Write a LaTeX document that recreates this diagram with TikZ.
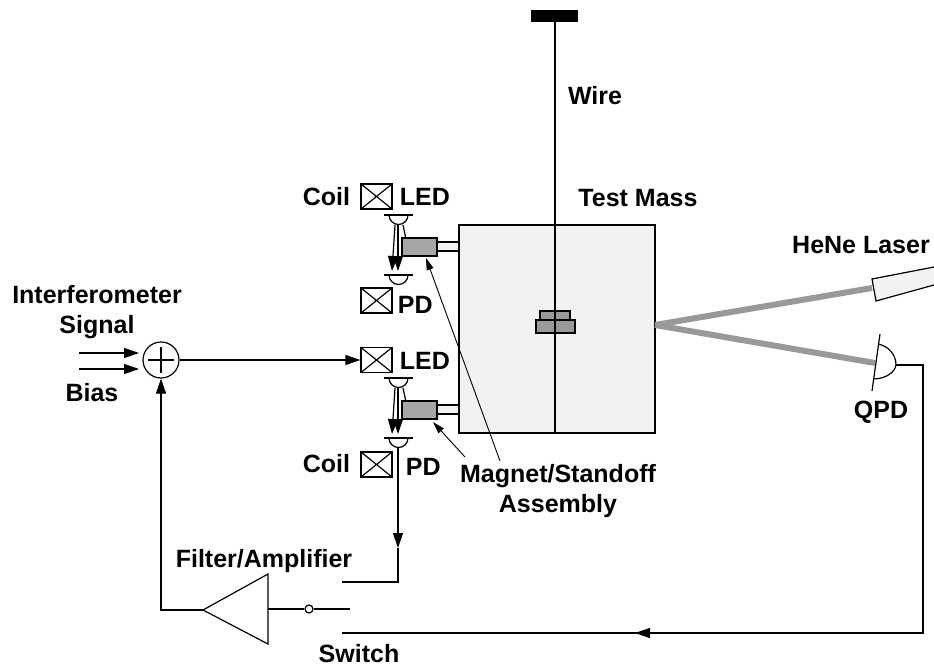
\documentclass[tikz,border=0pt]{standalone}
\usepackage{fontspec}
\setsansfont{Liberation Sans}
\usetikzlibrary{arrows.meta, calc}

\begin{document}
\begin{tikzpicture}[
    x=1pt, y=-1pt,
    font=\fontsize{25}{30}\selectfont\sffamily\bfseries,
    line width=1.2pt,
    >={Stealth[inset=0pt, length=15pt, width=10pt]},
    lead/.style={line width=0.9pt, -{Stealth[inset=0pt, length=12pt, width=7pt]}},
    coilbox/.style={draw, minimum width=31pt, minimum height=25pt, inner sep=0pt,
        path picture={\draw (path picture bounding box.north west) -- (path picture bounding box.south east)
            (path picture bounding box.north east) -- (path picture bounding box.south west);}},
    beam/.style={line width=6pt, beamgray}
]
    % fix the canvas to the reference size
    \path[use as bounding box] (0, 0) rectangle (934, 669);

    % ==========================================
    % colours
    % ==========================================
    \definecolor{massfill}{HTML}{F2F2F2}
    \definecolor{magnetgray}{HTML}{A6A6A6}
    \definecolor{beamgray}{HTML}{999999}

    % ==========================================
    % Test mass and suspension
    % ==========================================
    \fill (531, 10) rectangle (578, 22);
    \draw[fill=massfill] (459, 225) rectangle (655, 433);
    \draw[line width=1.6pt, fill=beamgray] (540, 311) rectangle (570, 320);
    \draw[line width=1.6pt, fill=beamgray] (536, 320) rectangle (575, 333);
    \draw (555, 22) -- (555, 432);
    \node at (595, 96) {Wire};
    \node at (638, 198) {Test Mass};

    % ==========================================
    % Shadow sensors: magnet, standoff, LED and PD
    % ==========================================
    \foreach \ytop/\ybot/\ymag in {215/275/238, 378/438/401} {
        % standoff and magnet
        \draw[fill=massfill] (437, \ymag+4) rectangle (459, \ymag+13);
        % light rays
        \draw[->] (395, \ytop+10) -- (392, \ybot-4);
        \draw[->] (398, \ytop+10) -- (398, \ybot-4);
        \draw (403, \ytop+10) -- (406, \ytop+24);
        \draw[fill=magnetgray] (402, \ymag) rectangle (437, \ymag+18);
        % LED
        \draw (384, \ytop) -- (413, \ytop);
        \draw (389, \ytop) arc (180:0:9.5);
        % PD
        \draw (384, \ybot) -- (413, \ybot);
        \draw (389, \ybot) arc (180:0:9.5);
    }

    \node[coilbox] (coilA) at (376.5, 196.5) {};
    \node[coilbox] (pdA) at (376.5, 300.5) {};
    \node[coilbox] (ledB) at (376.5, 360) {};
    \node[coilbox] (coilB) at (376.5, 464.5) {};

    \node[left] at (354, 197) {Coil};
    \node[right] at (396, 197) {LED};
    \node[right] at (394, 305) {PD};
    \node[right] at (396, 361) {LED};
    \node[left] at (354, 464) {Coil};
    \node[right] at (402, 467) {PD};

    % leaders of the magnet label
    \coordinate (magTipA) at (426, 258);
    \coordinate (magTipB) at (433, 422);
    \draw[lead] (500, 461) -- (magTipA);
    \draw[lead] (465, 457) -- (magTipB);
    \node[align=center] (magLabel) at (558, 491) {Magnet/Standoff\\Assembly};

    % ==========================================
    % Optical lever
    % ==========================================
    \coordinate (spot) at (655, 325);
    \draw[fill=massfill] (934, 267) -- (872, 279) -- (876, 301) -- (934, 285);
    \draw[beam] (spot) -- (872, 288);
    \draw[beam] (spot) -- (875, 363);
    \draw (880, 334) -- (872, 391);
    \draw (878, 344) .. controls (888, 346) and (896, 354) .. (896, 365)
        .. controls (895, 372) and (886, 379) .. (873, 379);
    \node at (861, 245) {HeNe Laser};
    \node at (881, 412) {QPD};

    % ==========================================
    % Feedback loop
    % ==========================================
    \node[draw, circle, minimum size=36pt, inner sep=0pt] (sum) at (161, 360) {};
    \draw ($(sum)+(-13, 0)$) -- ($(sum)+(13, 0)$);
    \draw ($(sum)+(0, -13)$) -- ($(sum)+(0, 13)$);
    \node[align=center] at (97, 312) {Interferometer\\Signal};
    \node at (92, 393) {Bias};
    \coordinate (sigIn) at (79, 353);
    \coordinate (biasIn) at (79, 369);
    \draw[->] (sigIn) -- (139, 353);
    \draw[->] (biasIn) -- (139, 369);
    \draw[->] (sum) -- (ledB);

    % PD output to the switch
    \coordinate (swTop) at (342, 582);
    \draw[->] (398, 448) -- (398, 548);
    \draw (398, 548) -- (398, 582) -- (swTop);

    % amplifier and switch
    \coordinate (ampTip) at (203, 610);
    \draw (ampTip) -- (268, 574) -- (268, 644) -- cycle;
    \node[draw, circle, minimum size=8pt, inner sep=0pt] (swPivot) at (309, 609) {};
    \coordinate (swArm) at (350, 609);
    \draw (268, 609) -- (swPivot);
    \draw (swPivot) -- (swArm);
    \draw[->] (ampTip) -- (161, 610) -- (sum);
    \node at (264, 561) {Filter/Amplifier};
    \node at (359, 654) {Switch};

    % QPD return
    \coordinate (swLow) at (342, 633);
    \draw (896, 365) -- (923, 365) -- (923, 633) -- (635, 633);
    \draw[->] (660, 633) -- (635, 633);
    \draw (635, 633) -- (swLow);
\end{tikzpicture}
\end{document}
